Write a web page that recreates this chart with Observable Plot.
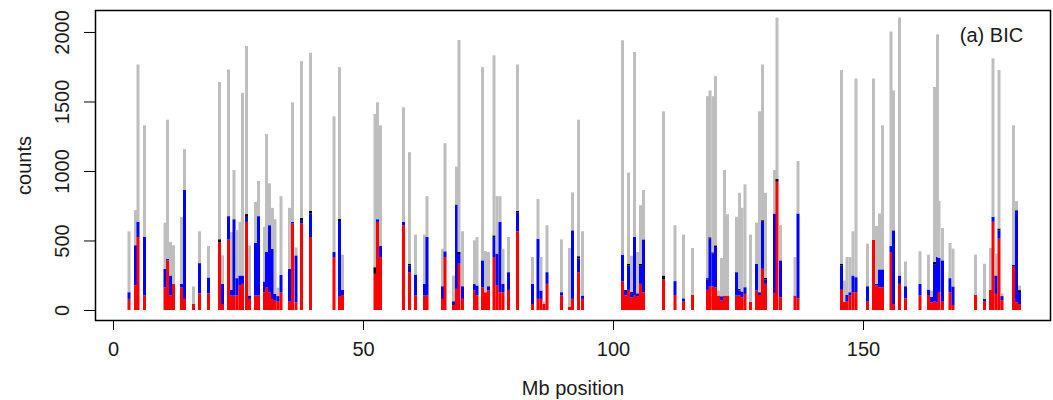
<!DOCTYPE html>
<html><head><meta charset="utf-8">
<script src="https://cdn.jsdelivr.net/npm/d3@7"></script>
<script src="https://cdn.jsdelivr.net/npm/@observablehq/plot@0.6"></script>
<style>body{margin:0;background:#fff;} svg{display:block}</style>
</head><body><div id="chart"></div>
<script>
const positions = [3.2,4.5,5.0,6.3,10.4,10.9,11.5,12.1,13.7,14.3,16.1,17.3,19.1,21.3,21.9,23.1,23.7,24.2,24.8,25.4,25.9,26.7,27.3,28.5,29.1,30.3,30.7,31.3,31.9,32.4,33.0,33.6,35.3,35.9,36.6,37.7,39.5,44.2,45.3,45.9,52.4,52.9,53.5,58.1,59.3,60.5,62.3,62.8,65.9,66.4,68.1,68.7,69.2,69.9,72.3,72.8,73.9,74.5,75.1,76.2,76.8,77.4,78.0,79.1,80.9,83.9,85.0,85.6,86.2,86.8,89.7,91.3,91.9,93.1,93.9,101.9,102.5,103.1,103.7,104.3,104.9,105.5,106.1,110.1,112.4,114.1,115.9,118.9,119.4,120.0,120.5,121.1,121.7,122.3,122.9,124.7,125.3,125.8,126.4,127.5,128.7,129.3,129.9,130.5,132.3,132.8,133.5,136.4,137.0,145.7,146.3,146.8,147.4,148.0,148.6,150.9,152.1,152.7,153.3,153.9,155.6,156.1,157.3,158.5,161.4,163.1,163.7,164.3,164.9,165.2,165.9,167.4,168.0,172.5,174.3,175.5,176.0,176.6,177.2,177.8,180.1,180.7,181.3];
const redCounts = [80,176,525,104,164,357,104,188,164,80,43,120,120,489,43,506,104,104,104,176,188,634,80,104,104,128,164,128,80,67,60,128,60,622,55,622,525,381,100,108,260,634,381,610,272,104,104,104,80,381,36,152,333,80,140,104,164,128,140,381,176,128,128,145,566,43,80,80,43,188,104,24,80,272,80,205,104,145,90,108,100,188,128,219,108,60,108,145,169,169,164,104,67,104,104,104,104,92,116,60,140,108,296,188,123,923,92,104,84,145,60,60,104,128,128,60,506,176,164,164,417,43,188,84,104,108,55,60,55,128,60,128,36,108,60,145,634,116,513,70,316,55,43];
const blueCounts = [48,290,110,421,132,10,144,0,24,783,0,217,114,0,145,169,40,549,125,72,60,36,24,378,571,77,253,482,361,49,40,125,236,12,338,20,169,36,540,37,0,19,79,24,48,151,84,421,91,41,27,607,70,91,48,72,193,0,31,144,229,506,60,127,135,145,433,60,0,84,24,0,493,100,24,193,40,175,40,417,20,130,380,0,100,24,0,74,344,236,289,0,32,0,0,168,36,41,48,0,193,20,338,31,571,0,265,0,610,175,0,48,24,120,108,111,0,12,128,128,43,530,60,87,84,39,40,270,326,246,297,101,133,0,20,0,36,132,60,30,10,663,80];
const blackCounts = [0,0,0,0,0,0,0,0,0,0,0,0,0,20,0,0,0,0,0,0,0,20,0,0,0,0,0,0,0,0,0,0,0,0,0,20,20,0,15,0,48,0,0,0,13,0,0,0,0,0,0,0,15,0,0,0,0,0,0,12,0,0,0,0,12,0,0,0,0,0,0,0,0,15,0,0,0,13,0,0,0,15,0,29,0,0,0,10,10,10,12,0,0,0,0,0,12,0,0,0,0,0,12,12,0,19,0,0,0,13,0,0,0,0,0,0,0,0,0,0,0,0,0,0,0,0,0,15,0,0,0,0,0,0,0,0,0,0,13,0,0,0,20];
const totalCounts = [566,718,1766,1328,627,1369,490,465,670,1157,169,566,460,1641,393,1730,560,1007,574,634,1562,1899,465,778,928,598,1265,911,735,653,160,819,735,1494,450,1790,1851,1393,1747,398,1410,1494,1328,1458,1135,542,542,819,441,1200,248,1031,1942,566,501,525,1747,424,417,1832,819,819,441,525,1766,381,798,381,60,610,508,446,846,1369,566,1940,130,988,390,1856,417,754,863,1429,610,542,446,1538,1579,1538,1682,140,374,1007,689,670,843,735,904,542,629,1429,1766,843,1007,2104,610,381,1072,1726,212,381,381,566,1665,477,1665,605,694,1328,2003,1579,2104,349,422,398,140,1605,1983,783,590,482,441,398,333,446,1810,405,1726,120,1328,783,176];
const xTicks = [0,50,100,150];
const yTicks = [0,500,1000,1500,2000];
const seriesNames = ["red","blue","black","grey"];
const seriesColors = {red:"#ff0000", blue:"#0000ff", black:"#000000", grey:"#bebebe"};

const rows = [];
positions.forEach((p,i)=>{
  const parts = [redCounts[i], blueCounts[i], blackCounts[i], Math.max(0,totalCounts[i]-redCounts[i]-blueCounts[i]-blackCounts[i])];
  let base = 0;
  parts.forEach((v,k)=>{ if(v>0) rows.push({pos:p, y1:base, y2:base+v, s:seriesNames[k]}); base+=v; });
});

const chart = Plot.plot({
  width:1053, height:400, marginLeft:95, marginRight:3, marginTop:10, marginBottom:80,
  x:{domain:[-3.6,187.4]}, y:{domain:[-72,2158]},
  color:{type:"identity"},
  style:{fontFamily:"'Liberation Sans', Arial, sans-serif", fontSize:"20px", color:"#1a1a1a", background:"#fff"},
  marks:[
    Plot.rect(rows,{x1:d=>d.pos-0.3, x2:d=>d.pos+0.3, y1:"y1", y2:"y2", fill:d=>seriesColors[d.s]}),
    Plot.frame({stroke:"#000", strokeWidth:1.5}),
    Plot.axisX(xTicks,{tickSize:10, tickPadding:11, label:null, fontSize:20, stroke:"#000"}),
    Plot.axisY(yTicks,{tickSize:11, label:null, tickFormat:()=>"", stroke:"#000"}),
    Plot.text(yTicks,{y:d=>d, frameAnchor:"left", dx:-27, rotate:-90, text:d=>String(d), fontSize:20, textAnchor:"middle", lineAnchor:"bottom"}),
    Plot.text(["counts"],{frameAnchor:"left", dx:-65, rotate:-90, text:d=>d, fontSize:20, textAnchor:"middle", lineAnchor:"bottom"}),
    Plot.text(["Mb position"],{frameAnchor:"bottom", dy:68, text:d=>d, fontSize:20, textAnchor:"middle", lineAnchor:"middle"}),
    Plot.text(["(a) BIC"],{frameAnchor:"top-right", dx:-59, dy:25, text:d=>d, fontSize:20, textAnchor:"middle", lineAnchor:"middle"})
  ]
});
document.getElementById("chart").appendChild(chart);
</script>
</body></html>
